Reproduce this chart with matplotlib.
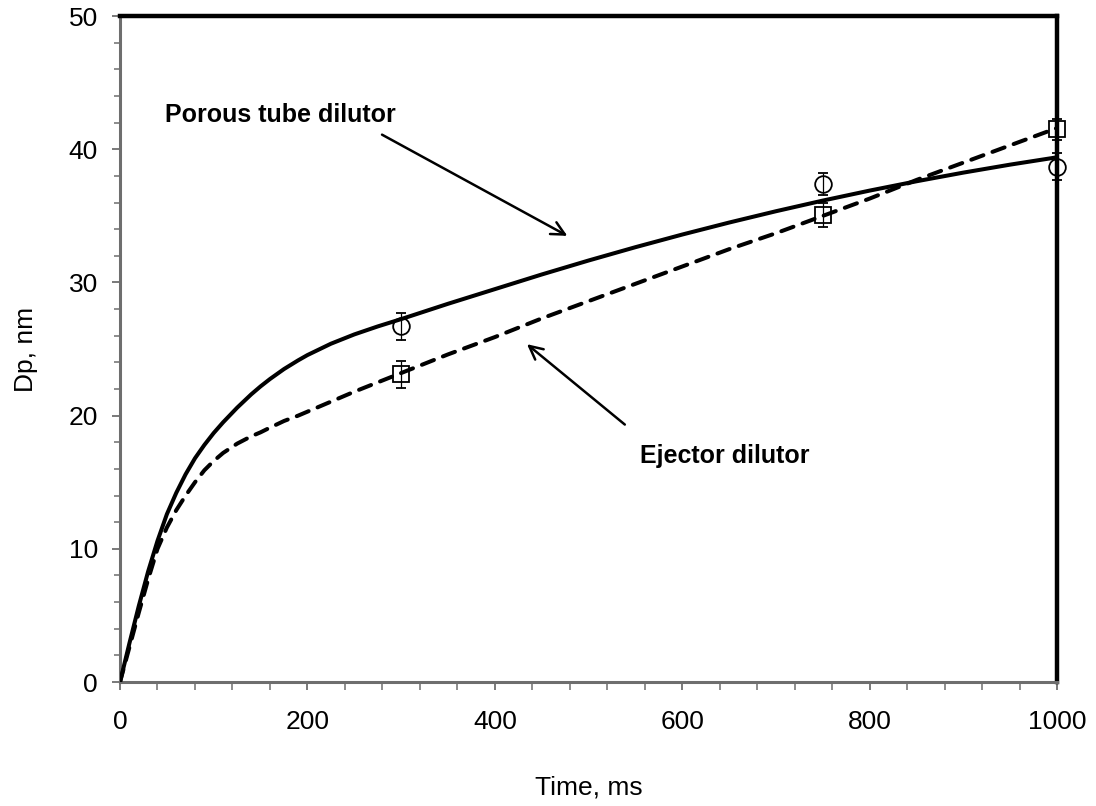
import numpy as np
import matplotlib.pyplot as plt
from matplotlib.ticker import MultipleLocator

plt.rcParams['font.family'] = ['Liberation Sans', 'DejaVu Sans']

# fitted growth curves (Dp vs residence time)
t_curve = [0, 10, 20, 30, 40, 50, 60, 70, 80, 90, 100, 110, 125, 140, 150, 160, 175, 190, 200,
           225, 250, 275, 300, 350, 400, 450, 500, 550, 600, 650, 700, 750, 800, 850, 900, 950, 1000]
porous_curve = [0, 2.9, 5.7, 8.3, 10.6, 12.6, 14.2, 15.6, 16.8, 17.8, 18.7, 19.5, 20.6, 21.6, 22.2, 22.75, 23.5, 24.15, 24.55,
                25.4, 26.1, 26.7, 27.25, 28.4, 29.5, 30.6, 31.65, 32.65, 33.6, 34.5, 35.35, 36.15, 36.9, 37.6, 38.25, 38.85, 39.4]
ejector_curve = [0, 2.6, 5.2, 7.7, 10.0, 11.6, 12.9, 14.0, 15.0, 15.9, 16.6, 17.2, 17.9, 18.45, 18.75, 19.1, 19.6, 20.0, 20.3,
                 21.05, 21.8, 22.5, 23.2, 24.6, 25.9, 27.3, 28.6, 29.9, 31.2, 32.5, 33.7, 35.0, 36.3, 37.7, 39.0, 40.3, 41.6]

# measured points
t_meas = [300, 750, 1000]
porous_meas = [26.7, 37.4, 38.7]
porous_err = [1.0, 0.85, 1.0]
ejector_meas = [23.1, 35.1, 41.5]
ejector_err = [1.0, 0.9, 0.8]

fig = plt.figure(figsize=(10.96, 8.06), dpi=100)
ax = fig.add_axes([0.1095, 0.1538, 0.855, 0.8262])

ax.plot(t_curve, porous_curve, color='black', lw=2.9, solid_capstyle='round',
        solid_joinstyle='round', zorder=3)
ax.plot(t_curve, ejector_curve, color='black', lw=2.9, dashes=(3.2, 2.4),
        dash_capstyle='round', dash_joinstyle='round', zorder=3)

ax.errorbar(t_meas, porous_meas, yerr=porous_err, fmt='o', ms=12, mfc='none',
            mec='black', mew=1.3, ecolor='black', elinewidth=0.9, capsize=3.5,
            capthick=0.9, zorder=4, clip_on=False)
ax.errorbar(t_meas, ejector_meas, yerr=ejector_err, fmt='s', ms=11, mfc='none',
            mec='black', mew=1.3, ecolor='black', elinewidth=0.9, capsize=3.5,
            capthick=0.9, zorder=4, clip_on=False)

ax.set_xlim(0, 1000)
ax.set_ylim(0, 50)
ax.xaxis.set_major_locator(MultipleLocator(200))
ax.xaxis.set_minor_locator(MultipleLocator(40))
ax.yaxis.set_major_locator(MultipleLocator(10))
ax.yaxis.set_minor_locator(MultipleLocator(2))

for side in ['left', 'bottom']:
    ax.spines[side].set_color('#6e6e6e')
    ax.spines[side].set_linewidth(2.2)
for side in ['top', 'right']:
    ax.spines[side].set_color('black')
    ax.spines[side].set_linewidth(3.2)

ax.tick_params(axis='both', which='major', direction='out', length=6, width=1.3,
               color='#6e6e6e', labelsize=19, pad=10)
ax.tick_params(axis='y', which='minor', direction='out', length=4, width=1.1, color='#6e6e6e')
ax.tick_params(axis='x', which='minor', direction='out', length=6, width=1.1, color='#6e6e6e')
ax.tick_params(axis='x', which='major', pad=14)

ax.set_xlabel('Time, ms', fontsize=19, labelpad=30)
ax.set_ylabel('Dp, nm', fontsize=19, labelpad=22)

ax.annotate('', xy=(480, 33.4), xytext=(277, 41.2),
            arrowprops=dict(arrowstyle='->', color='black', lw=1.8, mutation_scale=24))
ax.text(48, 42.6, 'Porous tube dilutor', fontsize=18, fontweight='bold', va='center', ha='left')

ax.annotate('', xy=(432, 25.5), xytext=(541, 19.2),
            arrowprops=dict(arrowstyle='->', color='black', lw=1.8, mutation_scale=24))
ax.text(555, 17.0, 'Ejector dilutor', fontsize=18, fontweight='bold', va='center', ha='left')

fig.savefig('out.png', dpi=100)
